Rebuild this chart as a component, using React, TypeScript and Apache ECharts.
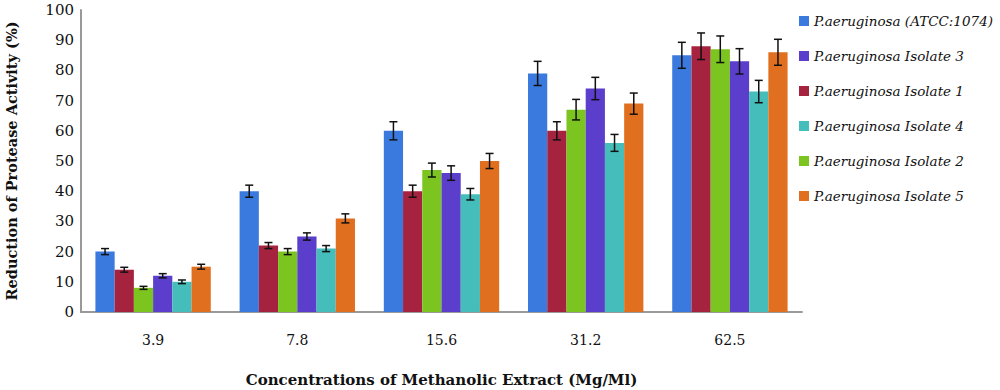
import React, { useEffect, useRef } from "react";
import * as echarts from "echarts";

const categories = ["3.9", "7.8", "15.6", "31.2", "62.5"];

const seriesNames = [
  "P.aeruginosa (ATCC:1074)",
  "P.aeruginosa Isolate 1",
  "P.aeruginosa Isolate 2",
  "P.aeruginosa Isolate 3",
  "P.aeruginosa Isolate 4",
  "P.aeruginosa Isolate 5",
];

const legendOrder = [
  "P.aeruginosa (ATCC:1074)",
  "P.aeruginosa Isolate 3",
  "P.aeruginosa Isolate 1",
  "P.aeruginosa Isolate 4",
  "P.aeruginosa Isolate 2",
  "P.aeruginosa Isolate 5",
];

const colors = ["#3a7ade", "#a5233e", "#7cc41f", "#5b3fcc", "#45bdbb", "#e0701f"];

const atcc = [20, 40, 60, 79, 85];
const isolate1 = [14, 22, 40, 60, 88];
const isolate2 = [8, 20, 47, 67, 87];
const isolate3 = [12, 25, 46, 74, 83];
const isolate4 = [10, 21, 39, 56, 73];
const isolate5 = [15, 31, 50, 69, 86];

const atccErr = [1, 2, 3, 4, 4.3];
const isolate1Err = [0.8, 1, 2, 3, 4.4];
const isolate2Err = [0.5, 1, 2.3, 3.4, 4.4];
const isolate3Err = [0.7, 1.2, 2.4, 3.7, 4.2];
const isolate4Err = [0.6, 1, 1.9, 2.8, 3.7];
const isolate5Err = [0.8, 1.5, 2.5, 3.5, 4.3];

const values = [atcc, isolate1, isolate2, isolate3, isolate4, isolate5];
const errors = [atccErr, isolate1Err, isolate2Err, isolate3Err, isolate4Err, isolate5Err];

const yTicks = { min: 0, max: 100, interval: 10 };

const FONT = "DejaVu Serif";

export default function App() {
  const ref = useRef<HTMLDivElement>(null);
  useEffect(() => {
    if (!ref.current) return;
    const chart = echarts.init(ref.current, null, { renderer: "svg" });
    const nSeries = values.length;
    const barSeries = values.map((vals, i) => ({
      name: seriesNames[i],
      type: "bar",
      data: vals,
      itemStyle: { color: colors[i] },
      barGap: "0%",
      barCategoryGap: "20%",
    }));
    const errSeries = values.map((vals, i) => ({
      name: seriesNames[i],
      type: "custom",
      z: 10,
      data: vals.map((v, k) => [k, v - errors[i][k], v + errors[i][k]]),
      renderItem: (params: any, api: any) => {
        const k = api.value(0);
        const lo = api.coord([k, api.value(1)]);
        const hi = api.coord([k, api.value(2)]);
        const band = api.size([1, 0])[0];
        const barW = (band * 0.8) / nSeries;
        const x = lo[0] - band * 0.4 + barW * (i + 0.5);
        const cap = 4;
        const style = { stroke: "#111", lineWidth: 1.5 };
        return {
          type: "group",
          children: [
            { type: "line", shape: { x1: x, y1: lo[1], x2: x, y2: hi[1] }, style },
            { type: "line", shape: { x1: x - cap, y1: lo[1], x2: x + cap, y2: lo[1] }, style },
            { type: "line", shape: { x1: x - cap, y1: hi[1], x2: x + cap, y2: hi[1] }, style },
          ],
        };
      },
      encode: { x: 0, y: [1, 2] },
      silent: true,
      tooltip: { show: false },
    }));

    chart.setOption({
      animation: false,
      color: colors,
      textStyle: { fontFamily: FONT },
      grid: {
        left: 81,
        right: 198,
        top: 10,
        bottom: 78,
        containLabel: false,
        outerBoundsMode: "none",
      },
      legend: {
        data: legendOrder,
        orient: "vertical",
        left: 794,
        top: 9,
        itemWidth: 10,
        itemHeight: 10,
        itemGap: 21,
        icon: "rect",
        textStyle: { fontFamily: FONT, fontStyle: "italic", fontSize: 13.5, color: "#111" },
      },
      xAxis: {
        type: "category",
        data: categories,
        axisLine: { lineStyle: { color: "#999", width: 2 } },
        axisTick: { show: false },
        axisLabel: { fontFamily: FONT, fontSize: 14, color: "#111", margin: 21 },
        name: "Concentrations of Methanolic Extract (Mg/Ml)",
        nameLocation: "middle",
        nameGap: 60,
        nameTextStyle: { fontFamily: FONT, fontWeight: "bold", fontSize: 15, color: "#111" },
      },
      yAxis: {
        type: "value",
        min: yTicks.min,
        max: yTicks.max,
        interval: yTicks.interval,
        axisLine: { show: true, lineStyle: { color: "#999", width: 2 } },
        axisTick: { show: false },
        splitLine: { show: false },
        axisLabel: { fontFamily: FONT, fontSize: 15, color: "#111", margin: 7 },
        name: "Reduction of Protease Activity (%)",
        nameLocation: "middle",
        nameGap: 62,
        nameTextStyle: { fontFamily: FONT, fontWeight: "bold", fontSize: 14.5, color: "#111" },
      },
      series: [...barSeries, ...errSeries],
    });
    return () => chart.dispose();
  }, []);
  return (
    <div
      ref={ref}
      style={{ position: "fixed", left: 0, top: 0, width: 1000, height: 390, background: "#fff" }}
    />
  );
}
